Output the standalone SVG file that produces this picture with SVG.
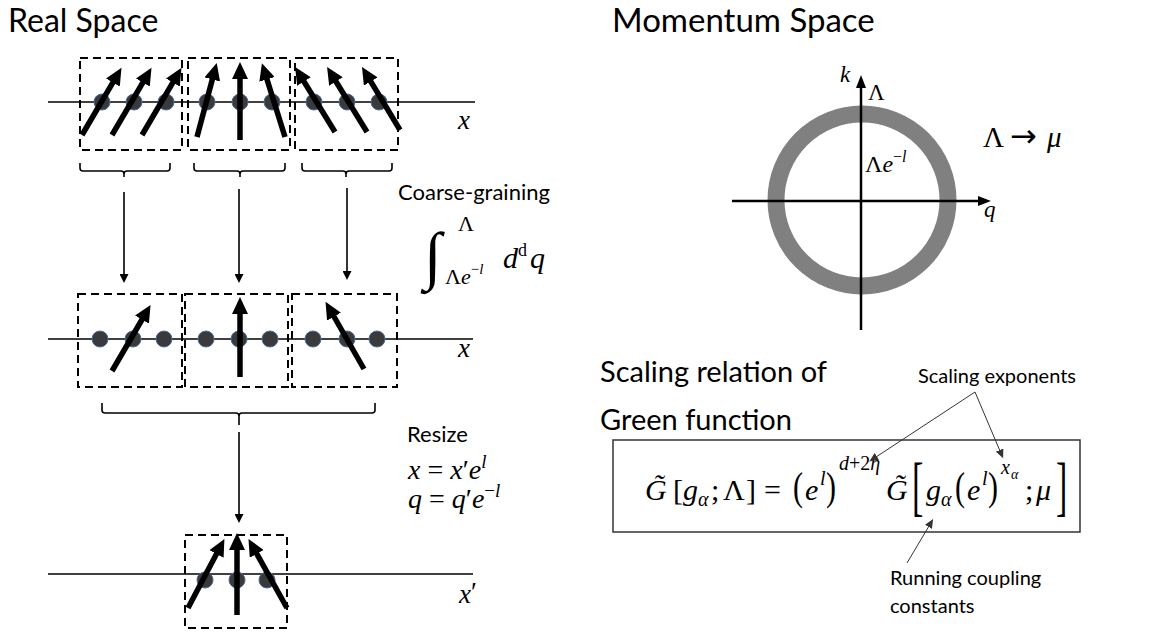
<svg xmlns="http://www.w3.org/2000/svg" width="1155" height="633" viewBox="0 0 1155 633">
<style>
.sans{font-family:Lato,"Open Sans","Liberation Sans",sans-serif;fill:#000}
.m{font-family:"Liberation Serif","DejaVu Serif",serif;fill:#000}
.i{font-style:italic}
.n{font-style:normal}
.dbox{fill:none;stroke:#000;stroke-width:2;stroke-dasharray:8 5}
.dot{fill:#3a3a3a;stroke:#4a6aa0;stroke-width:1}
.spin{stroke:#000;stroke-width:5.5;fill:none;marker-end:url(#spinHead)}
.brk{fill:none;stroke:#000;stroke-width:1.6}
.flow{stroke:#000;stroke-width:1.6;fill:none;marker-end:url(#flowHead)}
.thin{stroke:#333;stroke-width:1;fill:none;marker-end:url(#thinHead)}
</style>
<defs>
<marker id="spinHead" markerUnits="userSpaceOnUse" markerWidth="18" markerHeight="16" refX="3" refY="8" orient="auto">
<path d="M0,0 L17,8 L0,16 z" fill="#000"/>
</marker>
<marker id="flowHead" markerUnits="userSpaceOnUse" markerWidth="10" markerHeight="9" refX="1" refY="4.5" orient="auto">
<path d="M0,0 L9,4.5 L0,9 z" fill="#000"/>
</marker>
<marker id="axisHead" markerUnits="userSpaceOnUse" markerWidth="14" markerHeight="10" refX="2" refY="5" orient="auto">
<path d="M0,0 L13,5 L0,10 z" fill="#000"/>
</marker>
<marker id="thinHead" markerUnits="userSpaceOnUse" markerWidth="10" markerHeight="8" refX="1" refY="4" orient="auto">
<path d="M0,0 L9,4 L0,8 z" fill="#333"/>
</marker>
</defs>
<rect width="1155" height="633" fill="#fff"/>

<text class="sans" x="8" y="32" font-size="32">Real Space</text>
<text class="sans" x="612" y="32" font-size="33">Momentum Space</text>

<!-- Row 1 -->
<g id="row1">
<line x1="48" y1="102" x2="475" y2="102" stroke="#000" stroke-width="1.6"/>
<rect class="dbox" x="80" y="58" width="102" height="92"/>
<rect class="dbox" x="188" y="58" width="102" height="92"/>
<rect class="dbox" x="295" y="58" width="103" height="92"/>
<circle class="dot" cx="102" cy="102" r="8"/><circle class="dot" cx="134" cy="102" r="8"/><circle class="dot" cx="166" cy="102" r="8"/>
<circle class="dot" cx="207" cy="102" r="8"/><circle class="dot" cx="240" cy="102" r="8"/><circle class="dot" cx="272" cy="102" r="8"/>
<circle class="dot" cx="314" cy="102" r="8"/><circle class="dot" cx="347" cy="102" r="8"/><circle class="dot" cx="379" cy="102" r="8"/>
<line class="spin" x1="82" y1="135" x2="114.4" y2="79.9"/>
<line class="spin" x1="112" y1="135" x2="144.4" y2="79.9"/>
<line class="spin" x1="142" y1="135" x2="174.4" y2="79.9"/>
<line class="spin" x1="197" y1="137" x2="213.1" y2="76.5"/>
<line class="spin" x1="240" y1="140" x2="240" y2="76"/>
<line class="spin" x1="285" y1="137" x2="266.1" y2="76.5"/>
<line class="spin" x1="335" y1="132" x2="302.4" y2="79"/>
<line class="spin" x1="367" y1="132" x2="334.4" y2="79"/>
<line class="spin" x1="400" y1="130" x2="369.2" y2="78.9"/>
<text class="m i" x="458" y="129" font-size="27">x</text>
</g>

<g id="brackets1">
<path class="brk" d="M80,163 V168 Q80,171 83,171 H121 Q124,171 124,174 V177 M124,174 Q124,171 127,171 H167 Q170,171 170,168 V163"/>
<path class="brk" d="M194,163 V168 Q194,171 197,171 H237 Q240,171 240,174 V177 M240,174 Q240,171 243,171 H282 Q285,171 285,168 V163"/>
<path class="brk" d="M302,163 V168 Q302,171 305,171 H343 Q346,171 346,174 V177 M346,174 Q346,171 349,171 H389 Q392,171 392,168 V163"/>
</g>

<g id="connectors">
<line class="flow" x1="124" y1="192" x2="124" y2="275"/>
<line class="flow" x1="239" y1="189" x2="239" y2="275"/>
<line class="flow" x1="347" y1="188" x2="347" y2="272"/>
<line class="flow" x1="239" y1="432" x2="239" y2="515"/>
<path class="brk" d="M102,403 V410 Q102,413 105,413 H236 Q239,413 239,416 V425 M239,416 Q239,413 242,413 H372 Q375,413 375,410 V403"/>
</g>

<g id="coarse">
<text class="sans" x="398" y="200" font-size="22">Coarse-graining</text>
<text class="m" x="424" y="277" font-size="64">∫<tspan font-size="22" x="458" y="231">Λ</tspan><tspan font-size="22" x="445" y="284">Λ</tspan><tspan class="i" font-size="22">e</tspan><tspan font-size="15" dy="-10">−</tspan><tspan class="i" font-size="15">l</tspan><tspan class="i" font-size="30" x="503" y="268">d</tspan><tspan font-size="18" dy="-12">d</tspan><tspan class="i" font-size="30" dx="3" dy="12">q</tspan></text>
</g>

<!-- Row 2 -->
<g id="row2">
<line x1="48" y1="339" x2="473" y2="339" stroke="#000" stroke-width="1.6"/>
<rect class="dbox" x="78" y="294" width="104" height="93"/>
<rect class="dbox" x="185" y="294" width="103" height="93"/>
<rect class="dbox" x="292" y="294" width="105" height="93"/>
<circle class="dot" cx="100" cy="339" r="8"/><circle class="dot" cx="133" cy="339" r="8"/><circle class="dot" cx="164" cy="339" r="8"/>
<circle class="dot" cx="206" cy="339" r="8"/><circle class="dot" cx="239" cy="339" r="8"/><circle class="dot" cx="270" cy="339" r="8"/>
<circle class="dot" cx="313" cy="339" r="8"/><circle class="dot" cx="347" cy="339" r="8"/><circle class="dot" cx="377" cy="339" r="8"/>
<line class="spin" x1="112" y1="371" x2="143.5" y2="317"/>
<line class="spin" x1="240" y1="377" x2="240" y2="311"/>
<line class="spin" x1="364" y1="369" x2="332.5" y2="314"/>
<text class="m i" x="458" y="357" font-size="27">x</text>
</g>

<g id="resize">
<text class="sans" x="407" y="442" font-size="22">Resize</text>
<text class="m" x="408" y="479" font-size="28"><tspan class="i">x</tspan> = <tspan class="i">x</tspan>′<tspan class="i">e</tspan><tspan class="i" font-size="19" dy="-11">l</tspan></text>
<text class="m" x="408" y="508" font-size="28"><tspan class="i">q</tspan> = <tspan class="i">q</tspan>′<tspan class="i">e</tspan><tspan font-size="19" dy="-11">−</tspan><tspan class="i" font-size="19">l</tspan></text>
</g>

<!-- Row 3 -->
<g id="row3">
<line x1="48" y1="574" x2="473" y2="574" stroke="#000" stroke-width="1.6"/>
<rect class="dbox" x="185" y="535" width="102" height="93"/>
<circle class="dot" cx="205" cy="580" r="8"/><circle class="dot" cx="237" cy="580" r="8"/><circle class="dot" cx="267" cy="580" r="8"/>
<line class="spin" x1="188" y1="608" x2="217.9" y2="551.3"/>
<line class="spin" x1="237" y1="615" x2="237" y2="547"/>
<line class="spin" x1="287" y1="608" x2="255.3" y2="551.2"/>
<text class="m i" x="459" y="603" font-size="27">x<tspan class="n" dy="-2">′</tspan></text>
</g>

<!-- Momentum space -->
<g id="momentum">
<circle cx="862" cy="200" r="86" fill="none" stroke="#808080" stroke-width="17"/>
<line x1="732" y1="201" x2="980" y2="201" stroke="#000" stroke-width="2.5" marker-end="url(#axisHead)"/>
<line x1="861" y1="330" x2="861" y2="86" stroke="#000" stroke-width="2.5" marker-end="url(#axisHead)"/>
<text class="m i" x="840" y="82" font-size="23">k</text>
<text class="m" x="868" y="100" font-size="23">Λ</text>
<text class="m" x="865" y="172" font-size="24">Λ<tspan class="i">e</tspan><tspan font-size="16" dy="-10">−</tspan><tspan class="i" font-size="16">l</tspan></text>
<text class="m i" x="984" y="217" font-size="23">q</text>
<text class="m" x="983" y="147" font-size="29">Λ<tspan x="1010" font-family="DejaVu Sans" font-size="32">→</tspan><tspan class="i" x="1047">μ</tspan></text>
</g>

<!-- Scaling relation -->
<g id="scaling">
<text class="sans" x="600" y="382" font-size="29">Scaling relation of</text>
<text class="sans" x="600" y="430" font-size="29">Green function</text>
<rect x="613" y="440" width="467" height="92" fill="none" stroke="#333" stroke-width="1.5"/>
<text class="m" font-size="30" y="500"><tspan class="i" x="645" y="500">G&#x303;</tspan><tspan x="673" y="500">[</tspan><tspan class="i" x="683">g</tspan><tspan class="i" font-size="20" x="698" y="506">α</tspan><tspan x="711" y="500">;</tspan><tspan x="723">Λ</tspan><tspan x="746">]</tspan><tspan x="764">=</tspan><tspan class="i" x="805">e</tspan><tspan class="i" font-size="20" x="820" y="485">l</tspan><tspan class="i" font-size="20" x="839" y="470">d</tspan><tspan font-size="20">+2</tspan><tspan class="i" font-size="20">η</tspan><tspan class="i" x="886" y="500">G&#x303;</tspan><tspan class="i" x="926" y="500">g</tspan><tspan class="i" font-size="20" x="941" y="506">α</tspan><tspan class="i" x="967" y="500">e</tspan><tspan class="i" font-size="20" x="982" y="485">l</tspan><tspan class="i" font-size="20" x="1001" y="474">x</tspan><tspan class="i" font-size="14" x="1011" y="479">α</tspan><tspan x="1025" y="500">;</tspan><tspan class="i" x="1036">μ</tspan></text>
<text class="m" font-size="30" transform="translate(793,500) scale(1,1.35)">(</text>
<text class="m" font-size="30" transform="translate(826,500) scale(1,1.35)">)</text>
<text class="m" font-size="30" transform="translate(955,500) scale(1,1.35)">(</text>
<text class="m" font-size="30" transform="translate(988,500) scale(1,1.35)">)</text>
<text class="m" font-size="34" transform="translate(912,508) scale(1,1.95)">[</text>
<text class="m" font-size="34" transform="translate(1056,508) scale(1,1.95)">]</text>
<text class="sans" x="918" y="383" font-size="20">Scaling exponents</text>
<text class="sans" x="890" y="585" font-size="20">Running coupling<tspan x="890" y="613">constants</tspan></text>
<line class="thin" x1="975" y1="392" x2="876" y2="457"/>
<line class="thin" x1="975" y1="392" x2="1000" y2="451"/>
<line class="thin" x1="907" y1="563" x2="929" y2="526"/>
</g>
</svg>
